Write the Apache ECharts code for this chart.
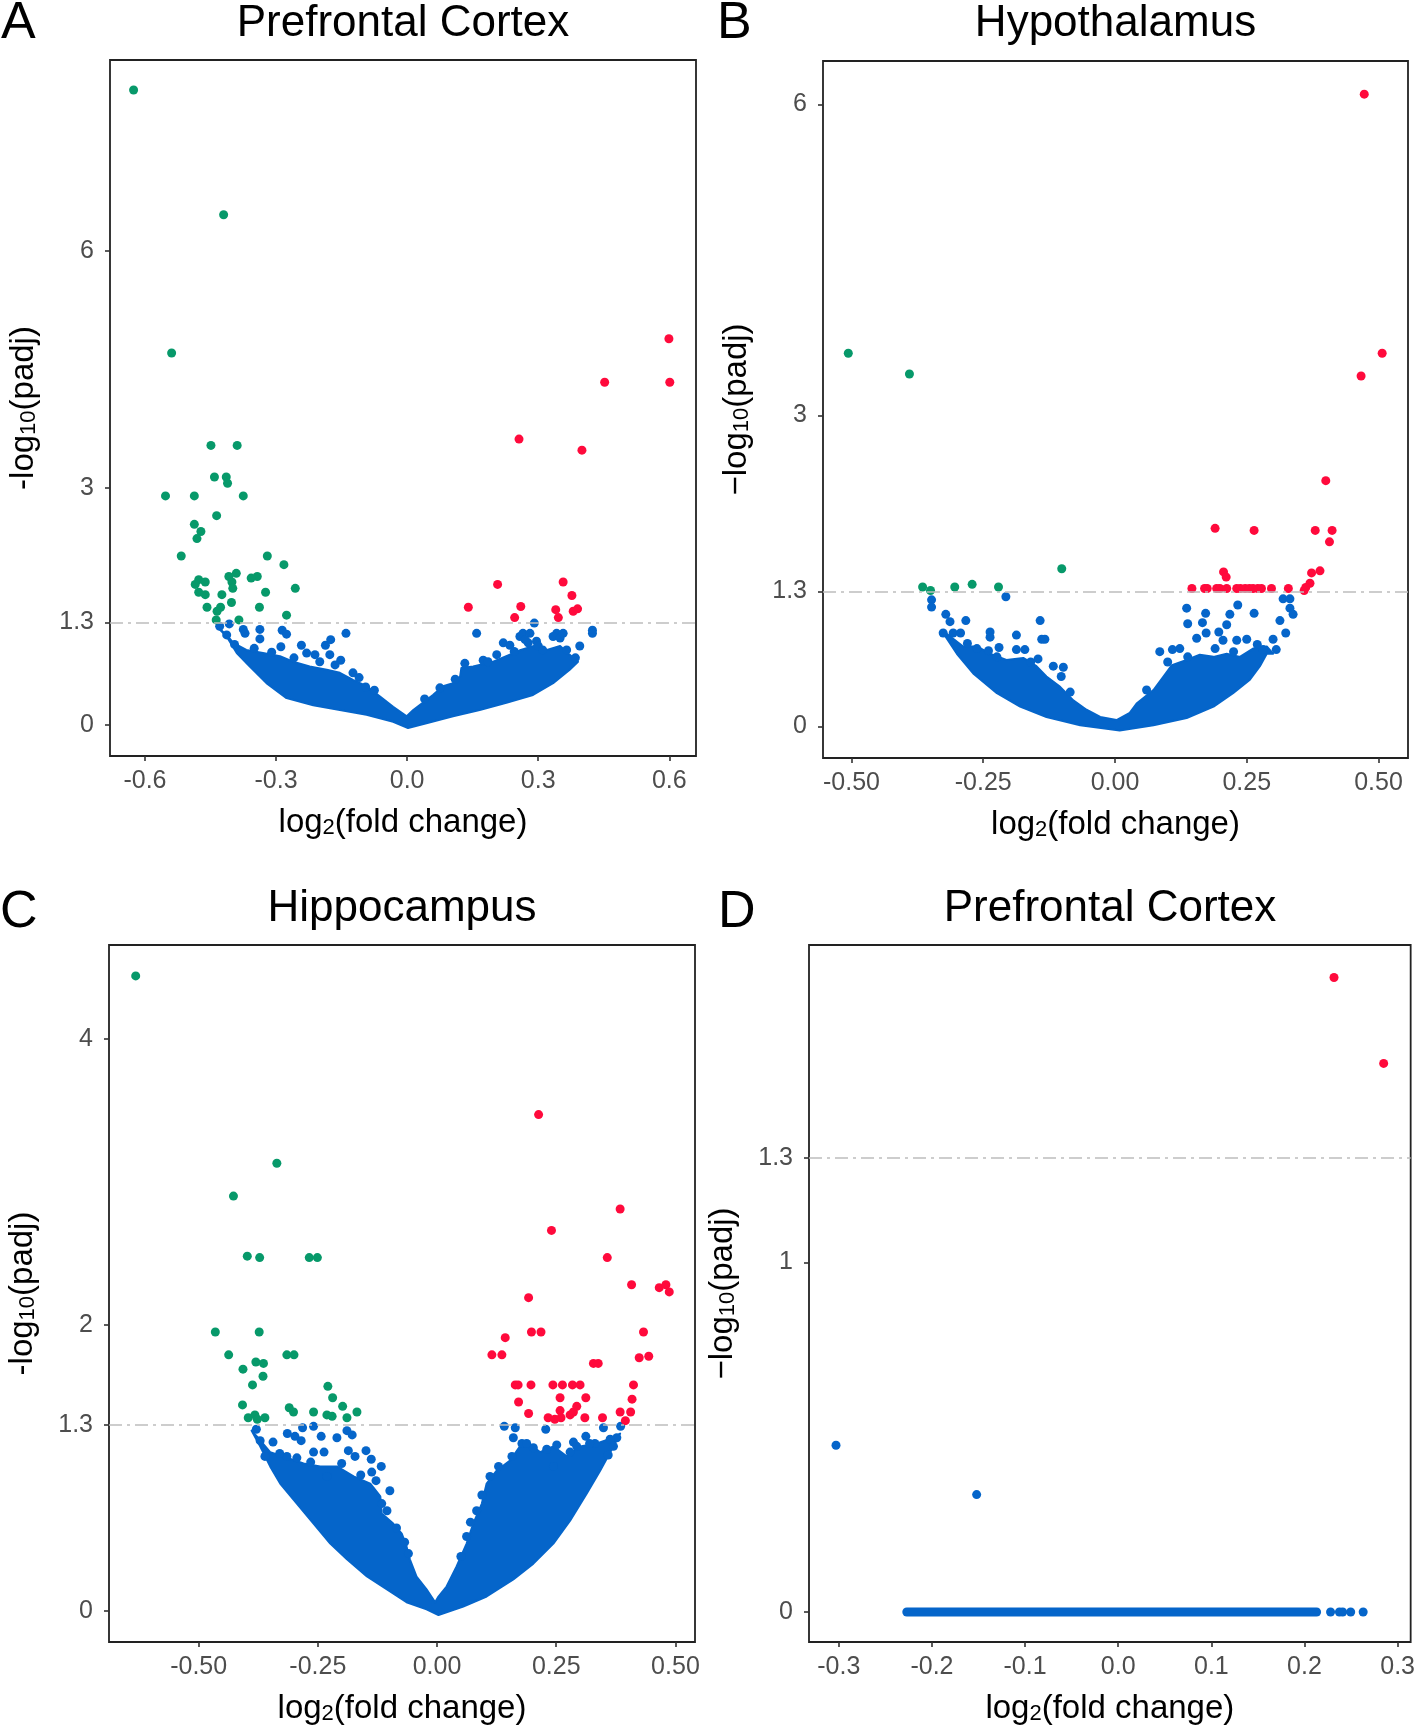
<!DOCTYPE html>
<html><head><meta charset="utf-8">
<script src="https://cdn.jsdelivr.net/npm/echarts@6/dist/echarts.min.js"></script>
<style>html,body{margin:0;padding:0;background:#fff}#c{width:1418px;height:1728px}</style>
</head><body><div id="c"></div>
<script>
// ---------------- DATA ----------------
const threshold = 1.3;

// Panel A — Prefrontal Cortex
const A_xTicks = [-0.6, -0.3, 0, 0.3, 0.6];
const A_yTicks = [0, 1.3, 3, 6];
const A_green = [[-0.626,8.04],[-0.420,6.46],[-0.539,4.71],[-0.449,3.54],[-0.389,3.54],[-0.441,3.14],[-0.414,3.14],[-0.411,3.06],[-0.553,2.90],[-0.487,2.90],[-0.375,2.90],[-0.436,2.65],[-0.487,2.54],[-0.472,2.45],[-0.481,2.36],[-0.517,2.14],[-0.320,2.14],[-0.282,2.03],[-0.391,1.92],[-0.408,1.88],[-0.343,1.88],[-0.357,1.86],[-0.477,1.84],[-0.462,1.81],[-0.485,1.78],[-0.401,1.81],[-0.399,1.73],[-0.256,1.73],[-0.477,1.68],[-0.462,1.65],[-0.324,1.68],[-0.424,1.65],[-0.402,1.55],[-0.458,1.49],[-0.427,1.49],[-0.435,1.44],[-0.338,1.49],[-0.276,1.39],[-0.437,1.33],[-0.385,1.33]];
const A_red = [[0.599,4.89],[0.452,4.34],[0.601,4.34],[0.256,3.62],[0.400,3.48],[0.207,1.78],[0.357,1.81],[0.377,1.64],[0.140,1.49],[0.260,1.50],[0.340,1.46],[0.380,1.44],[0.390,1.47],[0.246,1.36],[0.346,1.36]];
const A_blue = [[-0.407,1.28],[-0.429,1.25],[-0.375,1.21],[-0.371,1.16],[-0.337,1.21],[-0.337,1.09],[-0.286,1.20],[-0.276,1.15],[-0.140,1.16],[-0.242,1.01],[-0.230,0.91],[-0.211,0.89],[-0.187,1.01],[-0.175,1.08],[-0.177,0.89],[-0.152,0.82],[-0.124,0.66],[-0.310,0.92],[-0.289,0.99],[-0.259,0.85],[-0.095,0.48],[-0.413,1.14],[-0.395,1.02],[-0.350,0.97],[-0.200,0.80],[-0.165,0.76],[-0.110,0.60],[-0.075,0.44],[0.159,1.16],[0.291,1.29],[0.220,1.04],[0.235,1.01],[0.205,0.89],[0.174,0.82],[0.277,1.04],[0.296,1.06],[0.342,1.16],[0.424,1.20],[0.424,1.16],[0.395,1.00],[0.365,0.95],[0.132,0.78],[0.258,1.12],[0.265,1.16],[0.281,1.16],[0.270,1.08],[0.334,1.12],[0.350,1.10],[0.357,1.16],[0.300,1.00],[0.310,0.95],[0.040,0.33],[0.075,0.47],[0.110,0.58],[0.185,0.80],[0.245,0.93],[0.385,0.85]];
const A_cloudUpper = [[-0.436,1.25],[-0.413,1.14],[-0.398,1.04],[-0.368,0.95],[-0.330,0.91],[-0.291,0.87],[-0.261,0.80],[-0.223,0.74],[-0.184,0.70],[-0.154,0.66],[-0.124,0.57],[-0.093,0.49],[-0.062,0.36],[-0.032,0.23],[-0.001,0.11],[0.014,0.19],[0.059,0.38],[0.082,0.49],[0.105,0.53],[0.121,0.61],[0.124,0.72],[0.151,0.74],[0.197,0.80],[0.235,0.89],[0.260,0.95],[0.290,1.00],[0.320,0.95],[0.350,1.00],[0.370,0.90],[0.391,0.80]];
const A_cloudLower = [[0.391,0.80],[0.372,0.70],[0.334,0.53],[0.288,0.38],[0.227,0.28],[0.166,0.19],[0.105,0.11],[0.044,0.02],[0.002,-0.04],[-0.032,0.04],[-0.093,0.13],[-0.154,0.19],[-0.215,0.25],[-0.276,0.34],[-0.322,0.53],[-0.360,0.74],[-0.390,0.91],[-0.413,1.12],[-0.436,1.25]];

// Panel B — Hypothalamus
const B_xTicks = [-0.5, -0.25, 0, 0.25, 0.5];
const B_yTicks = [0, 1.3, 3, 6];
const B_green = [[-0.506,3.60],[-0.390,3.40],[-0.365,1.344],[-0.350,1.31],[-0.304,1.344],[-0.271,1.37],[-0.221,1.344],[-0.101,1.52]];
const B_red = [[0.473,6.10],[0.507,3.60],[0.467,3.38],[0.400,2.37],[0.190,1.91],[0.264,1.89],[0.380,1.89],[0.412,1.89],[0.407,1.78],[0.206,1.49],[0.211,1.44],[0.370,1.38],[0.373,1.48],[0.389,1.50],[0.359,1.31],[0.362,1.34],[0.146,1.33],[0.170,1.33],[0.175,1.33],[0.193,1.33],[0.199,1.33],[0.212,1.33],[0.231,1.33],[0.238,1.33],[0.247,1.33],[0.255,1.33],[0.262,1.33],[0.271,1.33],[0.278,1.33],[0.297,1.33],[0.329,1.33]];
const B_blue = [[-0.207,1.25],[-0.348,1.22],[-0.348,1.15],[-0.321,1.08],[-0.313,1.01],[-0.283,1.02],[-0.326,0.90],[-0.307,0.90],[-0.293,0.90],[-0.237,0.91],[-0.237,0.86],[-0.187,0.88],[-0.142,1.02],[-0.139,0.84],[-0.133,0.84],[-0.262,0.75],[-0.240,0.73],[-0.220,0.76],[-0.187,0.74],[-0.171,0.74],[-0.146,0.65],[-0.117,0.58],[-0.098,0.57],[-0.102,0.48],[-0.224,0.67],[-0.280,0.80],[-0.160,0.62],[-0.085,0.33],[0.136,1.14],[0.138,0.99],[0.172,1.09],[0.166,1.00],[0.233,1.17],[0.218,1.08],[0.264,1.09],[0.212,0.98],[0.197,0.91],[0.173,0.90],[0.155,0.85],[0.205,0.83],[0.231,0.83],[0.250,0.84],[0.085,0.72],[0.123,0.75],[0.109,0.74],[0.138,0.67],[0.190,0.75],[0.300,0.84],[0.319,1.23],[0.332,1.23],[0.332,1.14],[0.338,1.08],[0.313,1.02],[0.324,0.90],[0.281,0.74],[0.306,0.74],[0.060,0.35],[0.100,0.62],[0.225,0.72],[0.270,0.79]];
const B_cloudUpper = [[-0.326,0.92],[-0.288,0.77],[-0.262,0.77],[-0.237,0.70],[-0.206,0.64],[-0.174,0.66],[-0.149,0.58],[-0.130,0.48],[-0.104,0.38],[-0.079,0.25],[-0.054,0.16],[-0.028,0.09],[0.003,0.06],[0.028,0.13],[0.041,0.22],[0.073,0.35],[0.092,0.48],[0.108,0.59],[0.136,0.64],[0.161,0.69],[0.187,0.67],[0.212,0.70],[0.237,0.67],[0.262,0.75],[0.288,0.77],[0.300,0.70]];
const B_cloudLower = [[0.300,0.70],[0.288,0.70],[0.275,0.58],[0.256,0.45],[0.224,0.32],[0.187,0.19],[0.136,0.08],[0.073,0.01],[0.009,-0.04],[-0.066,0.01],[-0.130,0.09],[-0.180,0.19],[-0.224,0.32],[-0.269,0.51],[-0.300,0.70],[-0.326,0.90]];

// Panel C — Hippocampus
const C_xTicks = [-0.5, -0.25, 0, 0.25, 0.5];
const C_yTicks = [0, 1.3, 2, 4];
const C_green = [[-0.632,4.44],[-0.336,3.13],[-0.427,2.90],[-0.398,2.48],[-0.372,2.47],[-0.268,2.47],[-0.251,2.47],[-0.465,1.95],[-0.373,1.95],[-0.437,1.79],[-0.315,1.79],[-0.300,1.79],[-0.380,1.74],[-0.364,1.73],[-0.407,1.69],[-0.365,1.64],[-0.387,1.58],[-0.229,1.57],[-0.219,1.49],[-0.408,1.44],[-0.310,1.42],[-0.301,1.39],[-0.259,1.39],[-0.231,1.37],[-0.220,1.36],[-0.198,1.43],[-0.168,1.39],[-0.189,1.35],[-0.396,1.35],[-0.382,1.37],[-0.377,1.34],[-0.361,1.35]];
const C_red = [[0.213,3.47],[0.384,2.81],[0.240,2.66],[0.357,2.47],[0.408,2.28],[0.466,2.26],[0.480,2.28],[0.487,2.23],[0.192,2.19],[0.198,1.95],[0.218,1.95],[0.433,1.95],[0.143,1.91],[0.115,1.79],[0.136,1.79],[0.328,1.73],[0.338,1.73],[0.424,1.77],[0.444,1.78],[0.164,1.58],[0.170,1.58],[0.197,1.58],[0.243,1.58],[0.263,1.58],[0.284,1.58],[0.300,1.58],[0.412,1.58],[0.171,1.46],[0.258,1.49],[0.312,1.49],[0.409,1.48],[0.192,1.38],[0.233,1.35],[0.258,1.40],[0.260,1.35],[0.279,1.37],[0.286,1.39],[0.293,1.43],[0.310,1.35],[0.347,1.35],[0.384,1.39],[0.406,1.39],[0.395,1.33],[0.247,1.34]];
const C_blue = [[-0.379,1.27],[-0.314,1.24],[-0.282,1.28],[-0.259,1.29],[-0.243,1.22],[-0.298,1.22],[-0.285,1.19],[-0.210,1.21],[-0.189,1.26],[-0.178,1.23],[-0.344,1.18],[-0.259,1.11],[-0.237,1.11],[-0.186,1.12],[-0.149,1.12],[-0.138,1.06],[-0.117,1.01],[-0.172,1.08],[-0.137,0.97],[-0.128,0.91],[-0.099,0.84],[-0.116,0.75],[-0.294,1.07],[-0.315,1.08],[-0.231,0.94],[-0.371,1.19],[-0.361,1.08],[-0.330,1.10],[-0.265,1.04],[-0.200,1.03],[-0.160,0.95],[-0.105,0.70],[-0.085,0.58],[-0.068,0.48],[-0.060,0.40],[0.141,1.29],[0.164,1.28],[0.228,1.27],[0.349,1.28],[0.385,1.29],[0.160,1.21],[0.178,1.17],[0.251,1.16],[0.286,1.18],[0.312,1.22],[0.377,1.21],[0.157,1.08],[0.279,1.11],[0.244,1.01],[0.359,1.09],[0.129,1.01],[0.111,0.94],[0.094,0.81],[0.062,0.52],[0.202,1.14],[0.188,1.17],[0.293,1.15],[0.331,1.17],[0.363,1.20],[0.370,1.15],[0.050,0.38],[0.070,0.62],[0.083,0.70],[0.230,1.13],[0.320,1.17]];
const C_cloudUpper = [[-0.389,1.26],[-0.378,1.22],[-0.350,1.11],[-0.315,1.07],[-0.280,1.03],[-0.245,1.01],[-0.210,1.01],[-0.175,0.94],[-0.140,0.89],[-0.119,0.80],[-0.116,0.68],[-0.092,0.61],[-0.074,0.54],[-0.064,0.45],[-0.057,0.36],[-0.043,0.24],[-0.022,0.15],[-0.004,0.06],[0.003,0.10],[0.020,0.17],[0.041,0.31],[0.062,0.47],[0.076,0.61],[0.094,0.75],[0.104,0.89],[0.125,0.98],[0.153,1.05],[0.174,1.15],[0.188,1.18],[0.216,1.11],[0.244,1.15],[0.272,1.08],[0.300,1.15],[0.335,1.17],[0.370,1.21],[0.384,1.24]];
const C_cloudLower = [[0.384,1.24],[0.370,1.15],[0.342,0.98],[0.314,0.82],[0.279,0.63],[0.244,0.47],[0.202,0.33],[0.160,0.22],[0.104,0.10],[0.055,0.03],[0.003,-0.03],[-0.022,0.01],[-0.064,0.06],[-0.105,0.15],[-0.147,0.24],[-0.189,0.36],[-0.224,0.47],[-0.259,0.61],[-0.294,0.75],[-0.329,0.89],[-0.350,1.01],[-0.371,1.15],[-0.389,1.26]];

// Panel D — Prefrontal Cortex
const D_xTicks = [-0.3, -0.2, -0.1, 0, 0.1, 0.2, 0.3];
const D_yTicks = [0, 1, 1.3];
const D_red = [[0.2317,1.816],[0.285,1.570]];
const D_blue = [[-0.303,0.477],[-0.152,0.336],[0.228,0],[0.2375,0],[0.241,0],[0.2496,0],[0.263,0]];
const D_blueBand = [[-0.227,0],[0.213,0]];

// ---------------- BUILD ----------------
const FONT = '"Liberation Sans", Arial, Helvetica, sans-serif';
const BLUE = '#0565CA', GREEN = '#07996A', RED = '#FF0A3C';
const PT = 9;

const panels = [
  {title:'Prefrontal Cortex', letter:'A', box:[110,60,696,756], xr:[-0.680,0.661], yr:[-0.393,8.42], xt:A_xTicks, yt:A_yTicks, xd:1, minus:'-',
   green:A_green, red:A_red, blue:A_blue, cloud:A_cloudUpper.concat(A_cloudLower)},
  {title:'Hypothalamus', letter:'B', box:[823,61,1408,758], xr:[-0.554,0.556], yr:[-0.306,6.42], xt:B_xTicks, yt:B_yTicks, xd:2, minus:'\u2212',
   green:B_green, red:B_red, blue:B_blue, cloud:B_cloudUpper.concat(B_cloudLower)},
  {title:'Hippocampus', letter:'C', box:[109,945,695,1642], xr:[-0.688,0.541], yr:[-0.218,4.656], xt:C_xTicks, yt:C_yTicks, xd:2, minus:'-',
   green:C_green, red:C_red, blue:C_blue, cloud:C_cloudUpper.concat(C_cloudLower)},
  {title:'Prefrontal Cortex', letter:'D', box:[809,945,1411,1642], xr:[-0.332,0.314], yr:[-0.086,1.909], xt:D_xTicks, yt:D_yTicks, xd:1, minus:'\u2212',
   green:[], red:D_red, blue:D_blue, band:D_blueBand}
];

const grids = [], xAxes = [], yAxes = [], series = [], graphics = [];
const nameRich = {
  n:{fontSize:33, fontFamily:FONT, color:'#000'},
  s:{fontSize:22, fontFamily:FONT, color:'#000', lineHeight:10, verticalAlign:'bottom'}
};

panels.forEach((p, i) => {
  const [l, t, r, b] = p.box;
  grids.push({left:l, top:t, width:r-l, height:b-t, show:true, borderColor:'#222', borderWidth:1.8, backgroundColor:'rgba(0,0,0,0)'});
  xAxes.push({
    gridIndex:i, type:'value', min:p.xr[0], max:p.xr[1],
    axisLine:{show:false, onZero:false}, splitLine:{show:false},
    axisTick:{show:true, customValues:p.xt, length:5, lineStyle:{color:'#333', width:1.6}},
    axisLabel:{customValues:p.xt, color:'#4D4D4D', fontSize:25, fontFamily:FONT, margin:13,
      formatter:v => (Math.abs(v) < 1e-9 ? 0 : v).toFixed(p.xd)},
    name:'{n|log}{s|2}{n|(fold change)}', nameLocation:'middle', nameGap:50,
    nameTextStyle:{fontSize:33, fontFamily:FONT, color:'#000', rich:nameRich}
  });
  yAxes.push({
    gridIndex:i, type:'value', min:p.yr[0], max:p.yr[1],
    axisLine:{show:false, onZero:false}, splitLine:{show:false},
    axisTick:{show:true, customValues:p.yt, length:5, lineStyle:{color:'#333', width:1.6}},
    axisLabel:{customValues:p.yt, color:'#4D4D4D', fontSize:25, fontFamily:FONT, margin:16,
      formatter:v => String(v)},
    name:'{n|' + p.minus + 'log}{s|10}{n|(padj)}', nameLocation:'middle', nameGap:70,
    nameTextStyle:{fontSize:33, fontFamily:FONT, color:'#000', rich:nameRich}
  });
  // threshold line
  series.push({type:'scatter', xAxisIndex:i, yAxisIndex:i, data:[], z:1, silent:true,
    markLine:{silent:true, symbol:'none', animation:false, label:{show:false},
      lineStyle:{color:'#BDBDBD', width:1.7, type:[13,5,3,5]}, data:[{yAxis:threshold}]}});
  if (p.cloud) {
    const poly = p.cloud;
    series.push({type:'custom', xAxisIndex:i, yAxisIndex:i, data:[[0,0]], z:2, silent:true, clip:true,
      renderItem:(params, api) => ({type:'polygon', shape:{points:poly.map(pt => api.coord(pt))},
        style:{fill:BLUE, stroke:BLUE, lineWidth:2, lineJoin:'round'}})});
  }
  if (p.band) {
    series.push({type:'line', xAxisIndex:i, yAxisIndex:i, data:p.band, z:2, silent:true, symbol:'none',
      lineStyle:{color:BLUE, width:PT, cap:'round'}});
  }
  series.push({type:'scatter', xAxisIndex:i, yAxisIndex:i, data:p.blue, symbolSize:PT, z:3, silent:true, itemStyle:{color:BLUE, opacity:1}});
  series.push({type:'scatter', xAxisIndex:i, yAxisIndex:i, data:p.green, symbolSize:PT, z:4, silent:true, itemStyle:{color:GREEN, opacity:1}});
  series.push({type:'scatter', xAxisIndex:i, yAxisIndex:i, data:p.red, symbolSize:PT, z:4, silent:true, itemStyle:{color:RED, opacity:1}});

  const ty = i < 2 ? 24 : 909;
  graphics.push({type:'text', x:(l + r) / 2, y:ty, style:{text:p.title, fontSize:44, fontFamily:FONT, fill:'#000', align:'center', verticalAlign:'middle'}});
  const lx = [1, 717, 0, 718][i];
  const ly = i < 2 ? 24 : 913;
  graphics.push({type:'text', x:lx, y:ly, style:{text:p.letter, fontSize:52, fontFamily:FONT, fill:'#000', align:'left', verticalAlign:'middle'}});
});

const chart = echarts.init(document.getElementById('c'), null, {renderer:'canvas'});
chart.setOption({
  animation:false, backgroundColor:'#fff',
  grid:grids, xAxis:xAxes, yAxis:yAxes, series:series, graphic:graphics
});
</script></body></html>
